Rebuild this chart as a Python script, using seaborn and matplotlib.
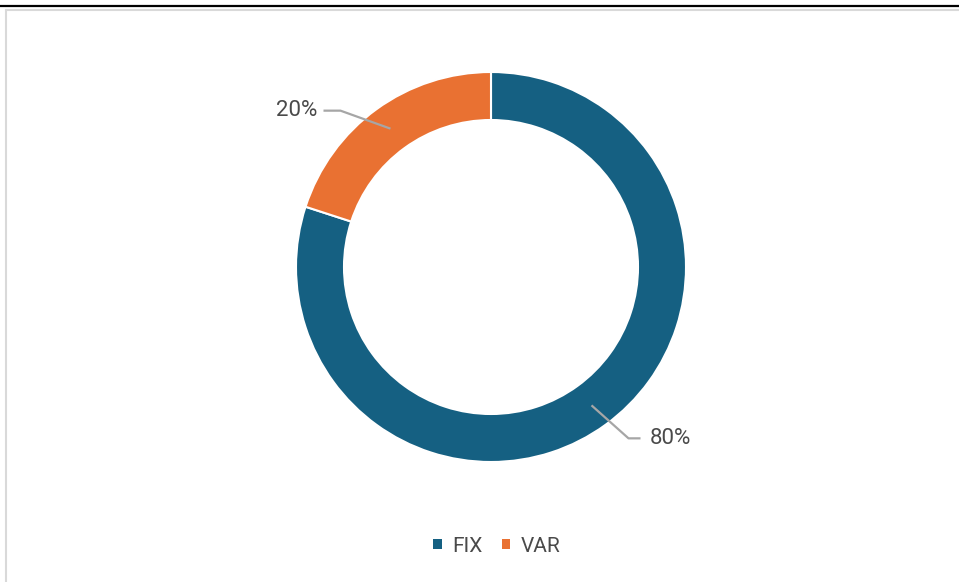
import numpy as np
import matplotlib
matplotlib.use("Agg")
import matplotlib.pyplot as plt
from matplotlib.lines import Line2D
from matplotlib.patches import Patch
import seaborn as sns

# data
categories = ["FIX", "VAR"]
shares = [80, 20]
colors = ["#156082", "#E97132"]

sns.set_theme(style="white")
plt.rcParams["font.family"] = ["Roboto", "DejaVu Sans"]

W, H = 959, 582
fig = plt.figure(figsize=(W / 100, H / 100), dpi=100)
ax = fig.add_axes([0, 0, 1, 1])

cx, cy = 491, H - 267
R, ring = 195, 48

wedges, _ = ax.pie(shares, colors=colors, startangle=90, counterclock=False,
                   center=(cx, cy), radius=R,
                   wedgeprops=dict(width=ring, edgecolor="white", linewidth=1.5))
ax.set_xlim(0, W)
ax.set_ylim(0, H)
ax.set_aspect("equal")
ax.axis("off")

txt_color = "#4A4A4A"
line_color = "#A6A6A6"
mid_r = R - ring / 2
# label offsets (leader elbow, text side)
label_style = {
    "FIX": dict(elbow=(37, -33), tail=12, ha="left"),
    "VAR": dict(elbow=(-50, 18), tail=-17, ha="right"),
}
for w, cat, val in zip(wedges, categories, shares):
    ang = np.deg2rad((w.theta1 + w.theta2) / 2)
    px, py = cx + mid_r * np.cos(ang), cy + mid_r * np.sin(ang)
    st = label_style[cat]
    ex, ey = px + st["elbow"][0], py + st["elbow"][1]
    tx = ex + st["tail"]
    ax.plot([px, ex, tx], [py, ey, ey], color=line_color, lw=1.6,
            solid_capstyle="butt")
    off = 9 if st["ha"] == "left" else -6
    ax.text(tx + off, ey, f"{val}%", ha=st["ha"], va="center",
            fontsize=16, color=txt_color)

handles = [Patch(facecolor=c, edgecolor="none", label=l)
           for c, l in zip(colors, categories)]
fig.legend(handles=handles, loc="center", ncol=2,
           bbox_to_anchor=(497 / W, 1 - 546 / H), frameon=False,
           fontsize=15, labelcolor=txt_color, handlelength=0.42,
           handleheight=0.42, handletextpad=0.5, columnspacing=0.9)

# frame lines from the screenshot
fig.add_artist(Line2D([0, 1], [1 - 6 / H, 1 - 6 / H], color="black", lw=1.6))
fig.add_artist(Line2D([6 / W, 1], [1 - 10 / H, 1 - 10 / H], color="#D9D9D9", lw=1.5))
fig.add_artist(Line2D([6 / W, 6 / W], [0, 1 - 10 / H], color="#D9D9D9", lw=1.5))

fig.savefig("out.png", dpi=100, facecolor="white")
